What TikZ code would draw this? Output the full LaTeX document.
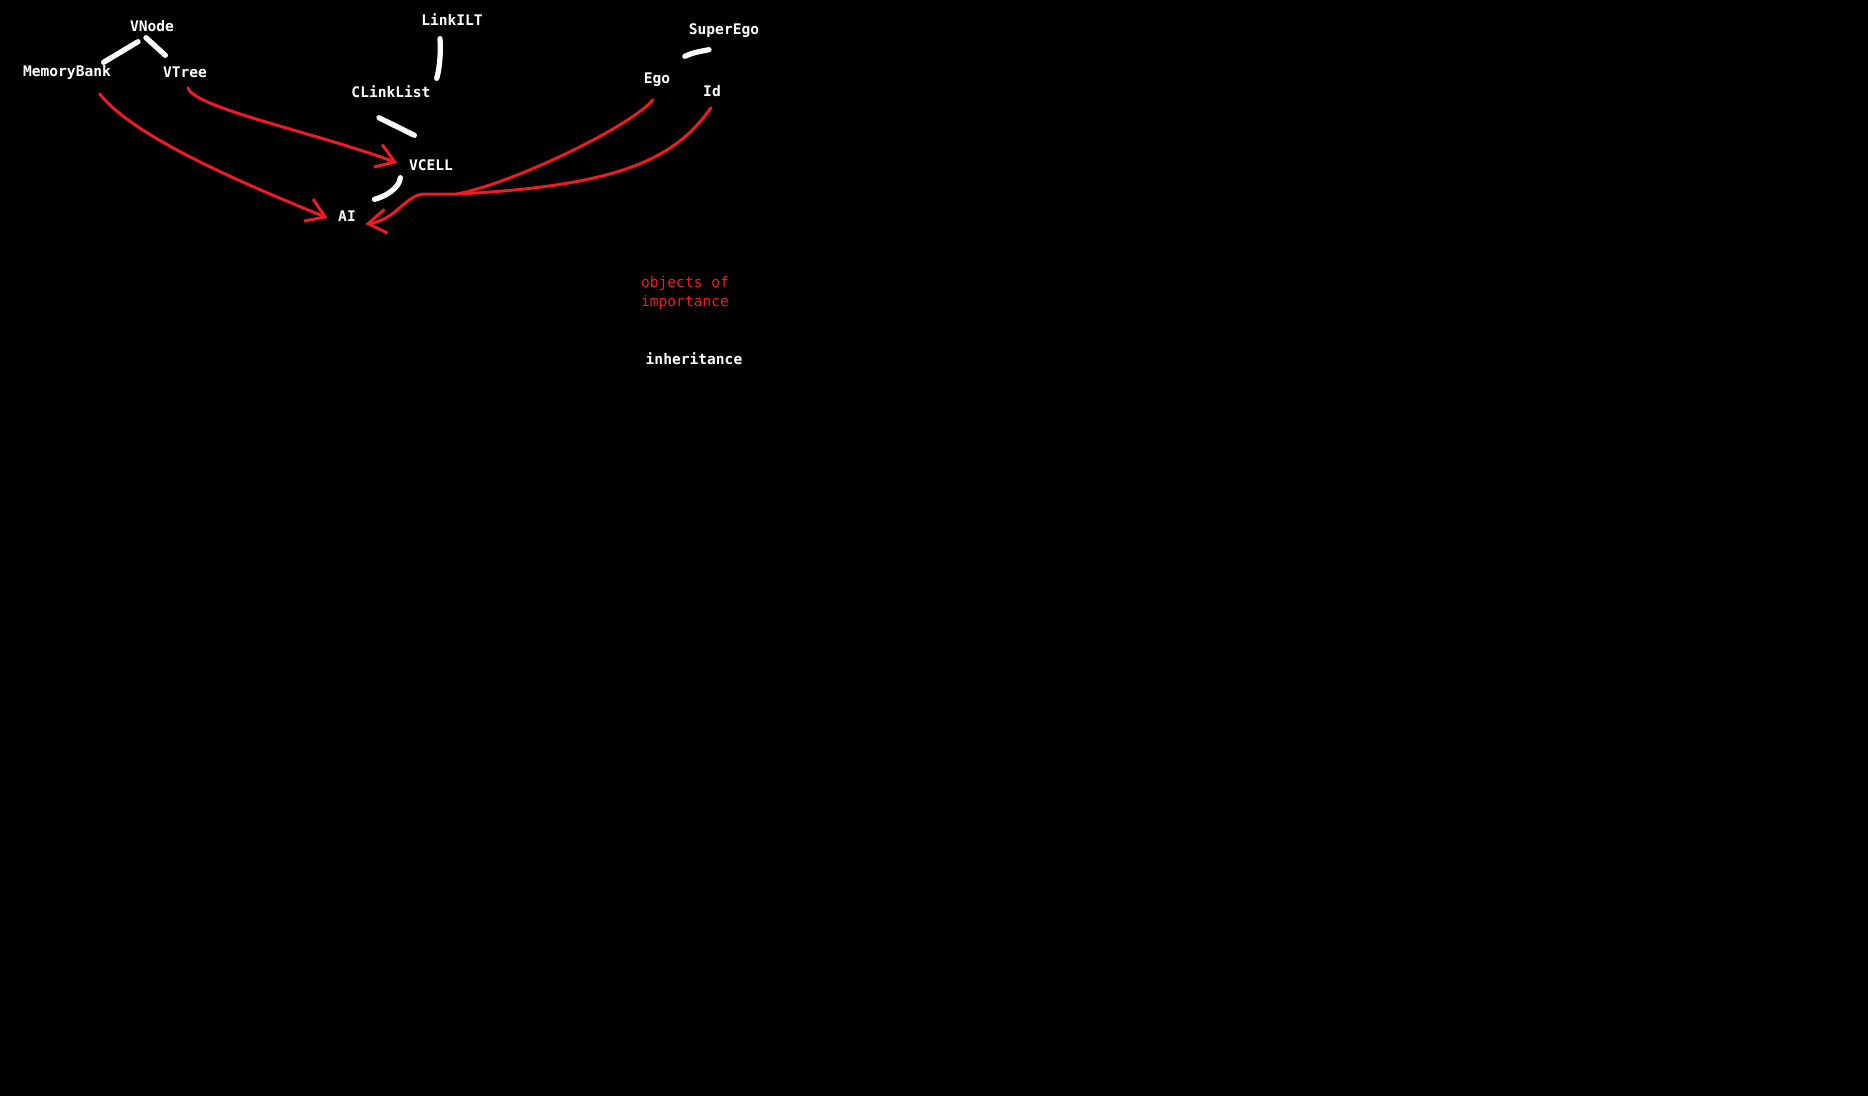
\documentclass[tikz,border=0pt]{standalone}
\usepackage{fontspec}
\setmonofont{DejaVu Sans Mono}
\usepackage{xcolor}
\usepackage{tikz}
\usetikzlibrary{arrows.meta,positioning}
\definecolor{pred}{RGB}{237,28,36}
\tikzset{
  dbox/.style ={inner sep=0.3mm, font={\ttfamily\fontsize{4.15}{5.4}\selectfont}},
  dcls/.style ={dbox, text=white, text height=1.1mm, text depth=0.3mm,
                font={\ttfamily\bfseries\fontsize{4.15}{5.4}\selectfont}},
  dnote/.style={dbox, text=pred, align=left},
  dinh/.style ={white, line width=1.5pt, line cap=round},
  dln/.style  ={pred, line width=0.85pt, line cap=round},
  dar/.style  ={dln, -{Straight Barb[length=1.8mm, width=2.4mm]}},
}

\begin{document}
\begin{tikzpicture}[node distance=5mm, on grid]

\fill[black] (0,0) rectangle (18.68,-10.96);
\useasboundingbox (0,0) rectangle (18.68,-10.96);

\node[dcls] (ai) at (3.47,-2.17) {AI};
\node[dcls, above right=0.51cm and 0.84cm of ai] (vcell) {VCELL};
\node[dcls, above left=0.73cm and 0.40cm of vcell] (clink) {CLinkList};
\node[dcls, above right=0.72cm and 0.61cm of clink] (linkilt) {LinkILT};
\node[dcls, above left=1.44cm and 1.62cm of ai] (vtree) {VTree};
\node[dcls, above left=0.46cm and 0.33cm of vtree] (vnode) {VNode};
\node[dcls, below left=0.45cm and 0.85cm of vnode] (mem) {MemoryBank};
\node[dcls, above right=0.87cm and 2.26cm of vcell] (ego) {Ego};
\node[dcls, above right=0.49cm and 0.67cm of ego] (superego) {SuperEgo};
\node[dcls, below right=0.13cm and 0.55cm of ego] (id) {Id};

\node[dnote, below right=2.135cm and 0.28cm of ego] (imp) {objects of\\importance};
\node[dcls, below right=0.675cm and 0.09cm of imp] (inh) {inheritance};

\coordinate (merge) at (4.57,-1.94);
\coordinate (bend) at (4.23,-1.94);

% inheritance
\draw[dinh] ([shift={(-0.14,-0.04)}]vnode.south) -- ([shift={(-0.11,-0.01)}]mem.north east);
\draw[dinh] ([shift={(-0.06,0)}]vnode.south) -- ([shift={(0.06,0.07)}]vtree.north west);
\draw[dinh] ([shift={(-0.12,-0.07)}]linkilt.south) .. controls +(0.01,-0.12) and +(0.03,0.10) .. ([shift={(0.025,0.04)}]clink.north east);
\draw[dinh] ([shift={(-0.12,-0.14)}]clink.south) -- ([shift={(0.09,0.20)}]vcell.north west);
\draw[dinh] ([shift={(-0.05,-0.01)}]vcell.south west) .. controls +(-0.01,-0.10) and +(0.12,0.03) .. ([shift={(0.15,0.07)}]ai.north east);
\draw[dinh] ([shift={(-0.15,-0.09)}]superego.south) .. controls +(-0.05,-0.01) and +(0.08,0.04) .. ([shift={(0.11,0.12)}]ego.north east);

% objects of importance
\draw[dar] ([shift={(-0.15,-0.11)}]mem.south east) .. controls +(0.36,-0.47) and +(-0.60,0.25) .. ([shift={(-0.07,-0.01)}]ai.west);
\draw[dar] ([shift={(0.03,-0.04)}]vtree.south) .. controls +(0.05,-0.20) and +(-0.80,0.30) .. ([shift={(-0.08,0.03)}]vcell.west);
\draw[dln] ([shift={(-0.04,-0.10)}]ego.south) .. controls +(-0.20,-0.25) and +(0.60,0.12) .. (merge);
\draw[dar] ([shift={(-0.01,-0.05)}]id.south) .. controls +(-0.36,-0.51) and +(1.63,0.08) .. (merge) -- (bend)
  .. controls +(-0.18,-0.02) and +(0.30,0.04) .. ([shift={(0.06,-0.07)}]ai.east);

\end{tikzpicture}
\end{document}
